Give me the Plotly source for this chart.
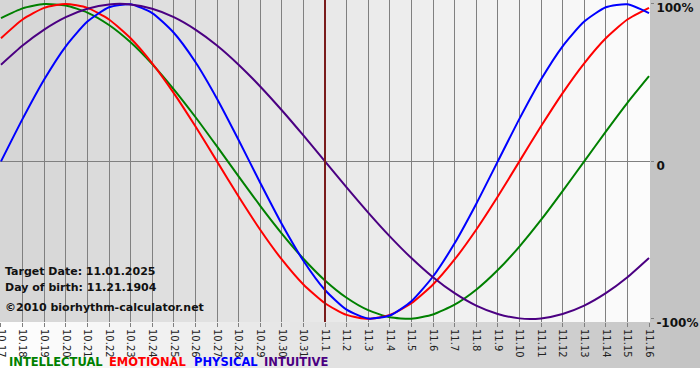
import plotly.graph_objects as go

# ---- data ----
day_labels = ["10.17", "10.18", "10.19", "10.20", "10.21", "10.22", "10.23", "10.24",
              "10.25", "10.26", "10.27", "10.28", "10.29", "10.30", "10.31", "11.1",
              "11.2", "11.3", "11.4", "11.5", "11.6", "11.7", "11.8", "11.9", "11.10",
              "11.11", "11.12", "11.13", "11.14", "11.15", "11.16"]

intellectual = [0.910, 0.972, 0.999, 0.990, 0.945, 0.866, 0.756, 0.618, 0.458, 0.282,
                0.095, -0.095, -0.282, -0.458, -0.618, -0.756, -0.866, -0.945, -0.990,
                -0.999, -0.972, -0.910, -0.815, -0.690, -0.541, -0.372, -0.189, 0.000,
                0.189, 0.372, 0.541]
emotional = [0.782, 0.901, 0.975, 1.000, 0.975, 0.901, 0.782, 0.623, 0.434, 0.223,
             0.000, -0.223, -0.434, -0.623, -0.782, -0.901, -0.975, -1.000, -0.975,
             -0.901, -0.782, -0.623, -0.434, -0.223, 0.000, 0.223, 0.434, 0.623, 0.782,
             0.901, 0.975]
physical = [0.000, 0.270, 0.520, 0.731, 0.888, 0.979, 0.998, 0.942, 0.817, 0.631,
            0.398, 0.136, -0.136, -0.398, -0.631, -0.817, -0.942, -0.998, -0.979,
            -0.888, -0.731, -0.520, -0.270, 0.000, 0.270, 0.520, 0.731, 0.888, 0.979,
            0.998, 0.942]
intuitive = [0.614, 0.736, 0.837, 0.916, 0.969, 0.997, 0.997, 0.969, 0.916, 0.837,
             0.736, 0.614, 0.476, 0.325, 0.165, 0.000, -0.165, -0.325, -0.476, -0.614,
             -0.736, -0.837, -0.916, -0.969, -0.997, -0.997, -0.969, -0.916, -0.837,
             -0.736, -0.614]

target_label = "11.1"
y_tick_vals = [1, 0, -1]
y_tick_text = ["100%", "0", "-100%"]
info_lines = ["Target Date: 11.01.2025", "Day of birth: 11.21.1904",
              "©2010 biorhythm-calculator.net"]
legend_names = ["INTELLECTUAL", "EMOTIONAL", "PHYSICAL", "INTUITIVE"]

# ---- styles ----
colors = ["#008000", "#ff0000", "#0000ff", "#4b0082"]
W, H = 700, 380
PW, PH = 650, 322  # plot area size in px

x = list(range(len(day_labels)))
fig = go.Figure()
for vals, col in zip([intellectual, emotional, physical, intuitive], colors):
    fig.add_trace(go.Scatter(x=x, y=vals, mode="lines",
                             line=dict(color=col, width=2, shape="spline", smoothing=0.6),
                             hoverinfo="skip", showlegend=False))

shapes = []
# plot area gradient (dark left -> light right)
n = 65
for i in range(n):
    c = int(214 + (252 - 214) * i / (n - 1))
    shapes.append(dict(type="rect", xref="paper", yref="paper",
                       x0=i / n, x1=(i + 1.5) / n if i < n - 1 else 1, y0=0, y1=1,
                       fillcolor=f"rgb({c},{c},{c})", line=dict(width=0), layer="below"))
# right margin
shapes.append(dict(type="rect", xref="paper", yref="paper", x0=1, x1=W / PW, y0=0, y1=1,
                   fillcolor="#c4c4c4", line=dict(width=0), layer="below"))
# bottom band gradient (white left -> grey right)
nb = 70
y_band_bot = -(368 - PH) / PH
for i in range(nb):
    c = int(255 - (255 - 196) * i / (nb - 1))
    shapes.append(dict(type="rect", xref="paper", yref="paper",
                       x0=(i * W / nb) / PW, x1=((i + 1.5) * W / nb) / PW,
                       y0=y_band_bot, y1=0,
                       fillcolor=f"rgb({c},{c},{c})", line=dict(width=0), layer="below"))
# target line
tx = day_labels.index(target_label)
shapes.append(dict(type="line", xref="x", yref="paper", x0=tx, x1=tx, y0=0, y1=1,
                   line=dict(color="#7a1c1c", width=2), layer="above"))

annotations = []
info_y = [271, 287, 307]
for t, yp in zip(info_lines, info_y):
    annotations.append(dict(text=t, xref="paper", yref="paper", x=3 / PW, y=(PH - yp) / PH,
                            xanchor="left", yanchor="middle", showarrow=False,
                            font=dict(family="DejaVu Sans", size=11, color="#111111",
                                      weight="bold")))
leg_x = [7, 107, 192, 262]
for t, xp, col in zip(legend_names, leg_x, colors):
    annotations.append(dict(text=t, xref="paper", yref="paper", x=xp / PW, y=(PH - 362) / PH,
                            xanchor="left", yanchor="middle", showarrow=False,
                            font=dict(family="DejaVu Sans", size=11.5, color=col,
                                      weight="bold")))

fig.update_layout(
    width=W, height=H,
    margin=dict(l=0, r=W - PW, t=0, b=H - PH, pad=0, autoexpand=False),
    paper_bgcolor="white", plot_bgcolor="rgba(0,0,0,0)",
    shapes=shapes, annotations=annotations,
    xaxis=dict(range=[-0.046, 30.046], tickmode="array", tickvals=x, ticktext=day_labels,
               tickangle=90, showgrid=True, gridcolor="#808080", gridwidth=1,
               ticks="outside", ticklen=4, tickcolor="#808080", zeroline=False,
               showline=False, fixedrange=True, automargin=False,
               ticklabeloverflow="allow",
               tickfont=dict(family="DejaVu Sans", size=10, color="#222222")),
    yaxis=dict(range=[-1.02, 1.025], side="right", tickmode="array",
               tickvals=y_tick_vals, ticktext=y_tick_text, showgrid=False,
               zeroline=True, zerolinecolor="#808080", zerolinewidth=1,
               ticks="outside", ticklen=3, tickcolor="#808080", showline=False,
               fixedrange=True, automargin=False, ticklabeloverflow="allow",
               ticklabelshift=4,
               tickfont=dict(family="DejaVu Sans", size=12, color="#111111", weight="bold")),
)

fig.write_html("out.html", config={"displayModeBar": False},
               post_script="document.body.style.margin='0';document.body.style.overflow='hidden';")
